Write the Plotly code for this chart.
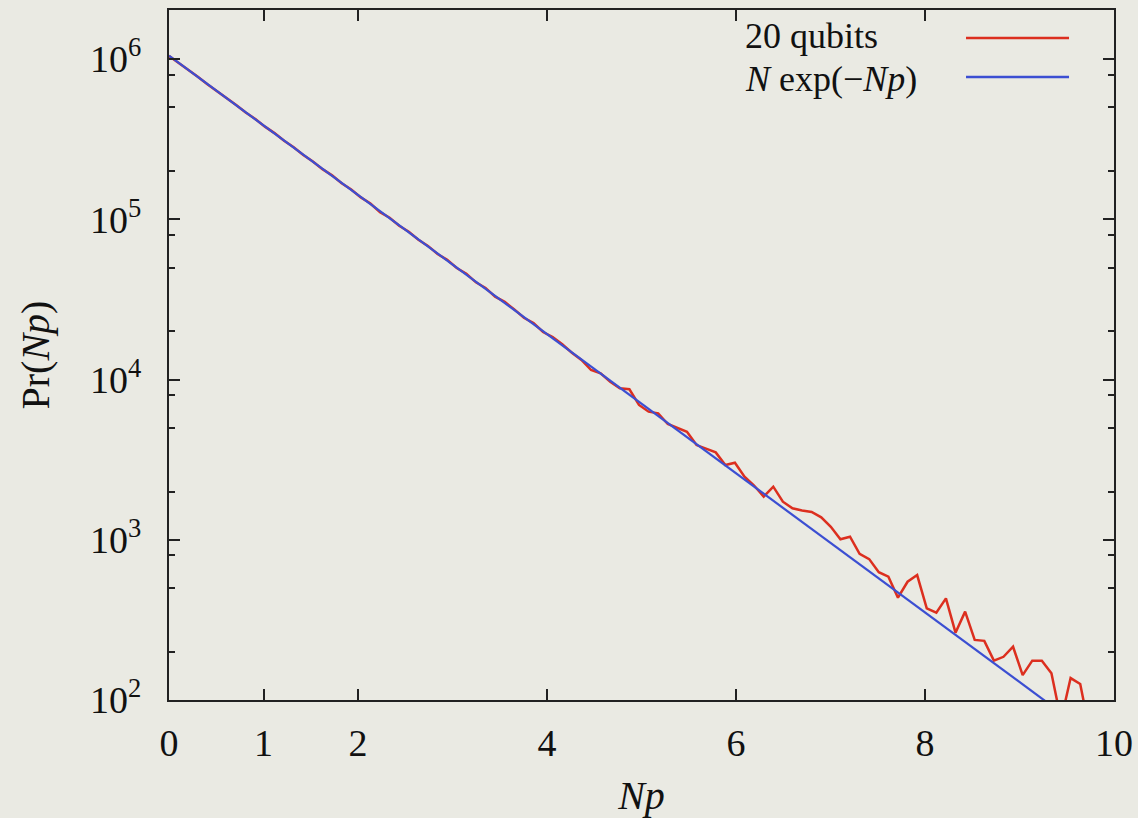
import plotly.graph_objects as go

# ---- data ----
np_values = [
    0.0, 0.1015, 0.203, 0.3045, 0.406, 0.5075, 0.609, 0.7105, 0.812, 0.9135,
    1.015, 1.1165, 1.218, 1.3195, 1.421, 1.5225, 1.624, 1.7255, 1.827, 1.9285,
    2.03, 2.1315, 2.233, 2.3345, 2.436, 2.5375, 2.639, 2.7405, 2.842, 2.9435,
    3.045, 3.1465, 3.248, 3.3495, 3.451, 3.5525, 3.654, 3.7555, 3.857, 3.9585,
    4.06, 4.1615, 4.263, 4.3645, 4.466, 4.5675, 4.669, 4.7705, 4.872, 4.9735,
    5.075, 5.1765, 5.278, 5.3795, 5.481, 5.5825, 5.684, 5.7855, 5.887, 5.9885,
    6.09, 6.1915, 6.293, 6.3945, 6.496, 6.5975, 6.699, 6.8005, 6.902, 7.0035,
    7.105, 7.2065, 7.308, 7.4095, 7.511, 7.6125, 7.714, 7.8155, 7.917, 8.0185,
    8.12, 8.2215, 8.323, 8.4245, 8.526, 8.6275, 8.729, 8.8305, 8.932, 9.0335,
    9.135, 9.2365, 9.338, 9.4395, 9.541, 9.6425, 9.744,
]
qubits20_counts = [
    1045000, 950000, 853000, 776000, 697000, 633000, 568000, 517000, 464000, 422000,
    378500, 345000, 309000, 281500, 252000, 229500, 205500, 188000, 167800, 153300,
    136900, 125500, 110800, 102300, 91200, 83600, 74500, 68200, 60700, 55800,
    49600, 45700, 40400, 37300, 32900, 30500, 27400, 24300, 22500, 19800,
    18400, 16600, 14700, 13240, 11465, 10930, 9690, 8810, 8690, 6935,
    6300, 6150, 5275, 5000, 4720, 3900, 3720, 3510, 2925, 3025,
    2474, 2180, 1858, 2145, 1728, 1571, 1522, 1490, 1380, 1205,
    1007, 1045, 818, 757, 627, 588, 435, 547, 602, 373,
    351, 431, 263, 356, 237, 234, 176, 186, 215, 143,
    176, 176, 147, 75, 137, 126, 63,
]
# N exp(-Np), N = 2^20 : a straight line on the log axis, given by its end points
fit_np = [0.0, 10.0]
fit_counts = [1048576, 47.6]

x_tickvals = [0, 1, 2, 4, 6, 8, 10]
y_tickvals = [1e2, 1e3, 1e4, 1e5, 1e6]
y_ticktext = ["10<sup>2</sup>", "10<sup>3</sup>", "10<sup>4</sup>", "10<sup>5</sup>", "10<sup>6</sup>"]
y_minor = [200, 500, 800, 2000, 5000, 8000, 2e4, 5e4, 8e4, 2e5, 5e5, 8e5]

series_names = ["20 qubits", "<i>N</i> exp(\u2212<i>Np</i>)"]

RED = "#dc2f1f"
BLUE = "#3c4fd2"
BG = "#eaeae3"
FONT = "Liberation Serif"

fig = go.Figure()
fig.add_trace(go.Scatter(x=np_values, y=qubits20_counts, mode="lines",
                         line=dict(color=RED, width=2.5), name=series_names[0],
                         showlegend=False))
fig.add_trace(go.Scatter(x=fit_np, y=fit_counts, mode="lines",
                         line=dict(color=BLUE, width=2.2), name=series_names[1],
                         showlegend=False))

# legend drawn gnuplot-style: text on the left, sample line on the right
legend_text_y = [0.9625, 0.8998]
legend_line_y = [0.9594, 0.9029]
legend_colors = [RED, BLUE]
for name, ty, ly, col in zip(series_names, legend_text_y, legend_line_y, legend_colors):
    fig.add_annotation(x=0.6074, y=ty, xref="paper", yref="paper", text=name,
                       showarrow=False, xanchor="left", yanchor="middle",
                       font=dict(family=FONT, size=36, color="#111"))
    fig.add_shape(type="line", xref="paper", yref="paper", x0=0.8434, x1=0.9524,
                  y0=ly, y1=ly, line=dict(color=col, width=2.5))

axis_common = dict(showgrid=False, zeroline=False, showline=True, linecolor="#222",
                   linewidth=2, mirror="ticks", ticks="inside", tickcolor="#222",
                   tickwidth=1.5, ticklen=11, automargin=False)

fig.update_xaxes(range=[0, 10], tickmode="array", tickvals=x_tickvals,
                 tickfont=dict(family=FONT, size=38, color="#111"),
                 ticklabelstandoff=8,
                 title=dict(text="<i>Np</i>", font=dict(family=FONT, size=40, color="#111"),
                            standoff=22),
                 **axis_common)
fig.update_yaxes(type="log", range=[2, 6.306], tickmode="array", tickvals=y_tickvals,
                 ticktext=y_ticktext,
                 tickfont=dict(family=FONT, size=38, color="#111"),
                 ticklabelstandoff=18,
                 minor=dict(tickmode="array", tickvals=y_minor, ticks="inside",
                            ticklen=6, tickwidth=1.5, tickcolor="#222", showgrid=False),
                 title=dict(text="Pr(<i>Np</i>)", font=dict(family=FONT, size=40, color="#111"),
                            standoff=28),
                 **axis_common)

fig.update_layout(width=1138, height=818, autosize=False,
                  margin=dict(l=169, r=24, t=10, b=118),
                  paper_bgcolor=BG, plot_bgcolor=BG, showlegend=False,
                  font=dict(family=FONT, color="#111"))

fig.write_html("out.html")
